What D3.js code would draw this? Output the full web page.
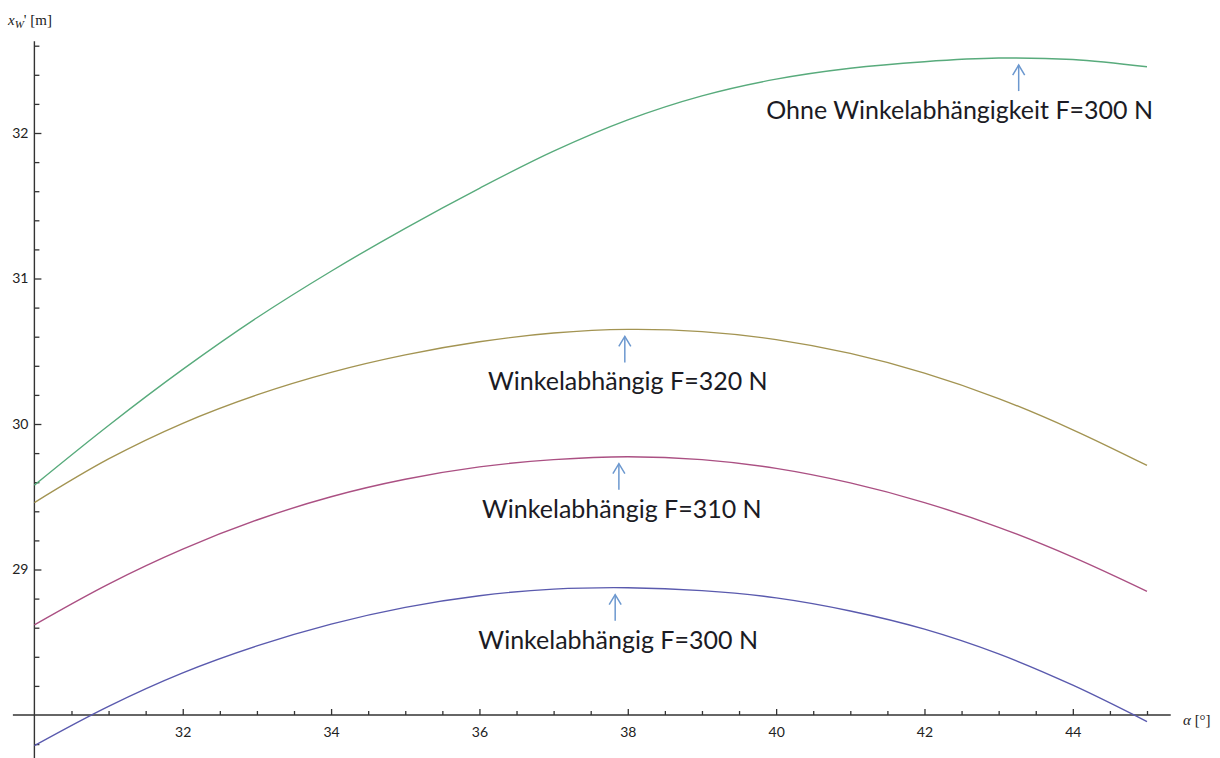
<!DOCTYPE html>
<html><head><meta charset="utf-8">
<script src="https://cdn.jsdelivr.net/npm/d3@7"></script>
<style>body{margin:0;background:#fff}svg{display:block}</style>
</head><body>
<svg id="chart" width="1220" height="758"></svg>
<script>
// ---- data ----
const alpha = [30,31,32,33,34,35,36,37,38,39,40,41,42,43,44,45];
const ohneWinkelF300 = [29.58,29.99,30.375,30.73,31.05,31.345,31.62,31.875,32.09,32.255,32.37,32.445,32.49,32.515,32.505,32.455];
const winkelF320     = [29.46,29.76,30.005,30.20,30.355,30.475,30.565,30.625,30.65,30.635,30.58,30.485,30.35,30.175,29.96,29.715];
const winkelF310     = [28.62,28.90,29.14,29.34,29.50,29.62,29.705,29.755,29.775,29.755,29.695,29.595,29.46,29.29,29.085,28.85];
const winkelF300     = [27.79,28.06,28.29,28.475,28.625,28.74,28.82,28.865,28.875,28.855,28.805,28.715,28.59,28.42,28.205,27.955];
const seriesLabels = ["Ohne Winkelabhängigkeit F=300 N","Winkelabhängig F=320 N","Winkelabhängig F=310 N","Winkelabhängig F=300 N"];
const peakAlpha = [43.27, 37.96, 37.88, 37.83];
const xMajorTicks = [32,34,36,38,40,42,44];
const xMinorTicks = [30.5,31,31.5,32.5,33,33.5,34.5,35,35.5,36.5,37,37.5,38.5,39,39.5,40.5,41,41.5,42.5,43,43.5,44.5,45];
const yMajorTicks = [29,30,31,32];
const yMinorTicks = [27.8,28.2,28.4,28.6,28.8,29.2,29.4,29.6,29.8,30.2,30.4,30.6,30.8,31.2,31.4,31.6,31.8,32.2,32.4,32.6];

const seriesValues = [ohneWinkelF300, winkelF320, winkelF310, winkelF300];
const colors = ["#58ab7c","#a39452","#ab5083","#5a5aae"];

// ---- scales ----
const svg = d3.select("#chart");
const x = d3.scaleLinear().domain([30,45]).range([34.4,1147]);
const y = d3.scaleLinear().domain([28,32]).range([715,133]);

// ---- axes ----
const axisColor = "#333";
const gx = svg.append("g").attr("transform",`translate(0,${y(28)})`);
gx.call(d3.axisBottom(x).tickValues(xMajorTicks).tickSize(-6).tickPadding(12).tickFormat(d3.format("d")));
gx.append("g").call(d3.axisBottom(x).tickValues(xMinorTicks).tickSize(-4).tickFormat(""));
gx.selectAll(".domain").remove();
gx.append("line").attr("x1",x(29.71)).attr("x2",x(45.32)).attr("stroke",axisColor).attr("stroke-width",1.4);

const gy = svg.append("g").attr("transform",`translate(${x(30)},0)`);
gy.call(d3.axisLeft(y).tickValues(yMajorTicks).tickSize(-7).tickPadding(6).tickFormat(d3.format("d")));
gy.append("g").call(d3.axisLeft(y).tickValues(yMinorTicks).tickSize(-5).tickFormat(""));
gy.selectAll(".domain").remove();
gy.append("line").attr("y1",y(27.7)).attr("y2",y(32.63)).attr("stroke",axisColor).attr("stroke-width",1.4);

svg.selectAll(".tick line").attr("stroke",axisColor).attr("stroke-width",1.3);
svg.selectAll(".tick text").attr("fill","#222").style("font-family","Lato, 'Open Sans', sans-serif").style("font-size","14px");

// axis titles
const yt = svg.append("text").attr("x",8).attr("y",25).style("font-family","'Liberation Serif', serif").style("font-size","15px").attr("fill","#222");
yt.append("tspan").style("font-style","italic").text("x");
yt.append("tspan").style("font-style","italic").style("font-size","11px").attr("dy",3).text("W");
yt.append("tspan").attr("dy",-3).text("' [m]");
const xt = svg.append("text").attr("x",1183).attr("y",725).style("font-family","'Liberation Serif', serif").style("font-size","15px").attr("fill","#222");
xt.append("tspan").style("font-style","italic").text("α");
xt.append("tspan").text(" [°]");

// ---- lines ----
const line = d3.line().x((d,i)=>x(alpha[i])).y(d=>y(d)).curve(d3.curveCatmullRom.alpha(0.5));
svg.append("g").selectAll("path").data(seriesValues).join("path")
  .attr("d",line).attr("fill","none").attr("stroke",(d,i)=>colors[i]).attr("stroke-width",1.4);

// ---- annotations ----
const arrowColor = "#6c98cf";
seriesValues.forEach((vals,i)=>{
  const px = x(peakAlpha[i]);
  const py = y(d3.max(vals));
  const tip = py + 7, bottom = py + 33;
  const g = svg.append("g").attr("stroke",arrowColor).attr("stroke-width",1.5).attr("fill","none");
  g.append("line").attr("x1",px).attr("x2",px).attr("y1",tip).attr("y2",bottom);
  g.append("path").attr("d",`M${px-6},${tip+10}L${px},${tip}L${px+6},${tip+10}`);
  svg.append("text").attr("x",px + (i===0 ? -59 : 3)).attr("y",py+61)
    .attr("text-anchor","middle").attr("fill","#1b1b24")
    .style("font-family","Lato, 'Open Sans', sans-serif").style("font-size","25px")
    .text(seriesLabels[i]);
});
</script>
</body></html>
